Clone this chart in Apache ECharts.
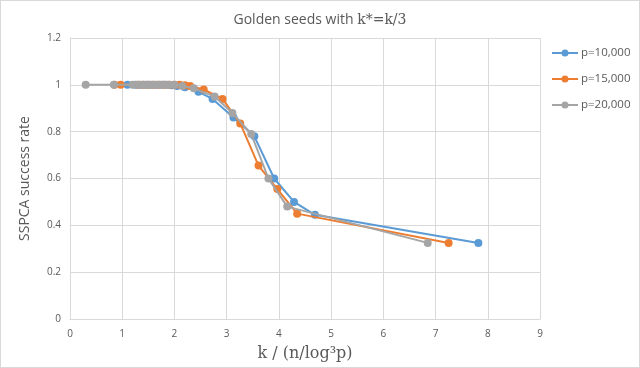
<!DOCTYPE html>
<html>
<head>
<meta charset="utf-8">
<script src="https://cdn.jsdelivr.net/npm/echarts@6/dist/echarts.min.js"></script>
<style>
html,body{margin:0;padding:0;background:#fff;}
#c{width:640px;height:368px;box-sizing:border-box;border:1px solid #d9d9d9;}
</style>
</head>
<body>
<div id="c"></div>
<script>
var seriesNames = ["p=10,000", "p=15,000", "p=20,000"];
var xTicks = [0, 1, 2, 3, 4, 5, 6, 7, 8, 9];
var yTicks = [0, 0.2, 0.4, 0.6, 0.8, 1, 1.2];

var p10x = [1.1, 1.25, 1.35, 1.45, 1.55, 1.65, 1.75, 1.85, 1.95, 2.05, 2.2, 2.46, 2.73, 3.13, 3.53, 3.91, 4.29, 4.69, 7.82];
var p10y = [1, 1, 1, 1, 1, 1, 1, 1, 0.998, 0.995, 0.99, 0.97, 0.94, 0.86, 0.78, 0.6, 0.5, 0.445, 0.325];

var p15x = [0.85, 0.97, 1.3, 1.4, 1.5, 1.6, 1.7, 1.8, 1.9, 2.0, 2.1, 2.2, 2.3, 2.56, 2.92, 3.26, 3.61, 3.97, 4.35, 7.25];
var p15y = [1, 1, 1, 1, 1, 1, 1, 1, 1, 1, 1, 0.998, 0.995, 0.98, 0.94, 0.835, 0.655, 0.555, 0.45, 0.325];

var p20x = [0.3, 0.84, 1.2, 1.3, 1.4, 1.5, 1.6, 1.7, 1.8, 1.9, 2.0, 2.15, 2.37, 2.77, 3.11, 3.47, 3.8, 4.16, 6.85];
var p20y = [1, 1, 1, 1, 1, 1, 1, 1, 1, 1, 1, 0.995, 0.985, 0.95, 0.88, 0.79, 0.6, 0.48, 0.325];

var colors = ["#5B9BD5", "#ED7D31", "#A5A5A5"];

function zip(xs, ys) { return xs.map(function (x, i) { return [x, ys[i]]; }); }
var allData = [zip(p10x, p10y), zip(p15x, p15y), zip(p20x, p20y)];

var legendIcon = 'path://M0,3.5 L9.6,3.5 L9.6,5.5 L0,5.5 Z M16.4,3.5 L26,3.5 L26,5.5 L16.4,5.5 Z M9.5,4.5 A3.5,3.5 0 1,1 16.5,4.5 A3.5,3.5 0 1,1 9.5,4.5 Z';

var chart = echarts.init(document.getElementById('c'));
chart.setOption({
  animation: false,
  backgroundColor: '#fff',
  color: colors,
  title: {
    text: '{a|Golden seeds with }{b|k*=k/3}',
    left: 'center',
    top: 7,
    textStyle: {
      fontWeight: 'normal',
      rich: {
        a: { fontFamily: 'Open Sans', fontSize: 14, fontWeight: 'normal', color: '#595959' },
        b: { fontFamily: 'DejaVu Serif', fontSize: 14, fontWeight: 'normal', color: '#595959' }
      }
    }
  },
  legend: {
    orient: 'vertical',
    left: 546,
    top: 41,
    itemWidth: 26,
    itemHeight: 8,
    itemGap: 14,
    itemStyle: { borderWidth: 0 },
    textStyle: { fontFamily: 'Open Sans', fontSize: 11.5, color: '#595959', padding: [0, 0, 0, -2] },
    data: seriesNames.map(function (n) {
      return { name: n, icon: legendIcon };
    })
  },
  grid: { left: 69, right: 99, top: 37, bottom: 47, containLabel: false },
  xAxis: {
    type: 'value',
    min: xTicks[0],
    max: xTicks[xTicks.length - 1],
    interval: 1,
    name: 'k / (n/log\u00b3p)',
    nameLocation: 'middle',
    nameGap: 27,
    nameTextStyle: { fontFamily: 'DejaVu Serif', fontSize: 16, color: '#595959' },
    axisLine: { show: true, lineStyle: { color: '#d9d9d9' } },
    axisTick: { show: false },
    axisLabel: { fontFamily: 'Open Sans', fontSize: 10, color: '#595959', margin: 10 },
    splitLine: { show: true, lineStyle: { color: '#d9d9d9' } }
  },
  yAxis: {
    type: 'value',
    min: yTicks[0],
    max: yTicks[yTicks.length - 1],
    interval: 0.2,
    name: 'SSPCA success rate',
    nameLocation: 'middle',
    nameGap: 38,
    nameTextStyle: { fontFamily: 'Open Sans', fontSize: 14, color: '#595959' },
    axisLine: { show: true, lineStyle: { color: '#d9d9d9' } },
    axisTick: { show: false },
    axisLabel: { fontFamily: 'Open Sans', fontSize: 10, color: '#595959', margin: 9 },
    splitLine: { show: true, lineStyle: { color: '#d9d9d9' } }
  },
  series: seriesNames.map(function (n, i) {
    return {
      name: n,
      type: 'line',
      data: allData[i],
      symbol: 'circle',
      symbolSize: 8,
      lineStyle: { width: 2, color: colors[i] },
      itemStyle: { color: colors[i] },
      z: 2 + i
    };
  })
});
</script>
</body>
</html>
